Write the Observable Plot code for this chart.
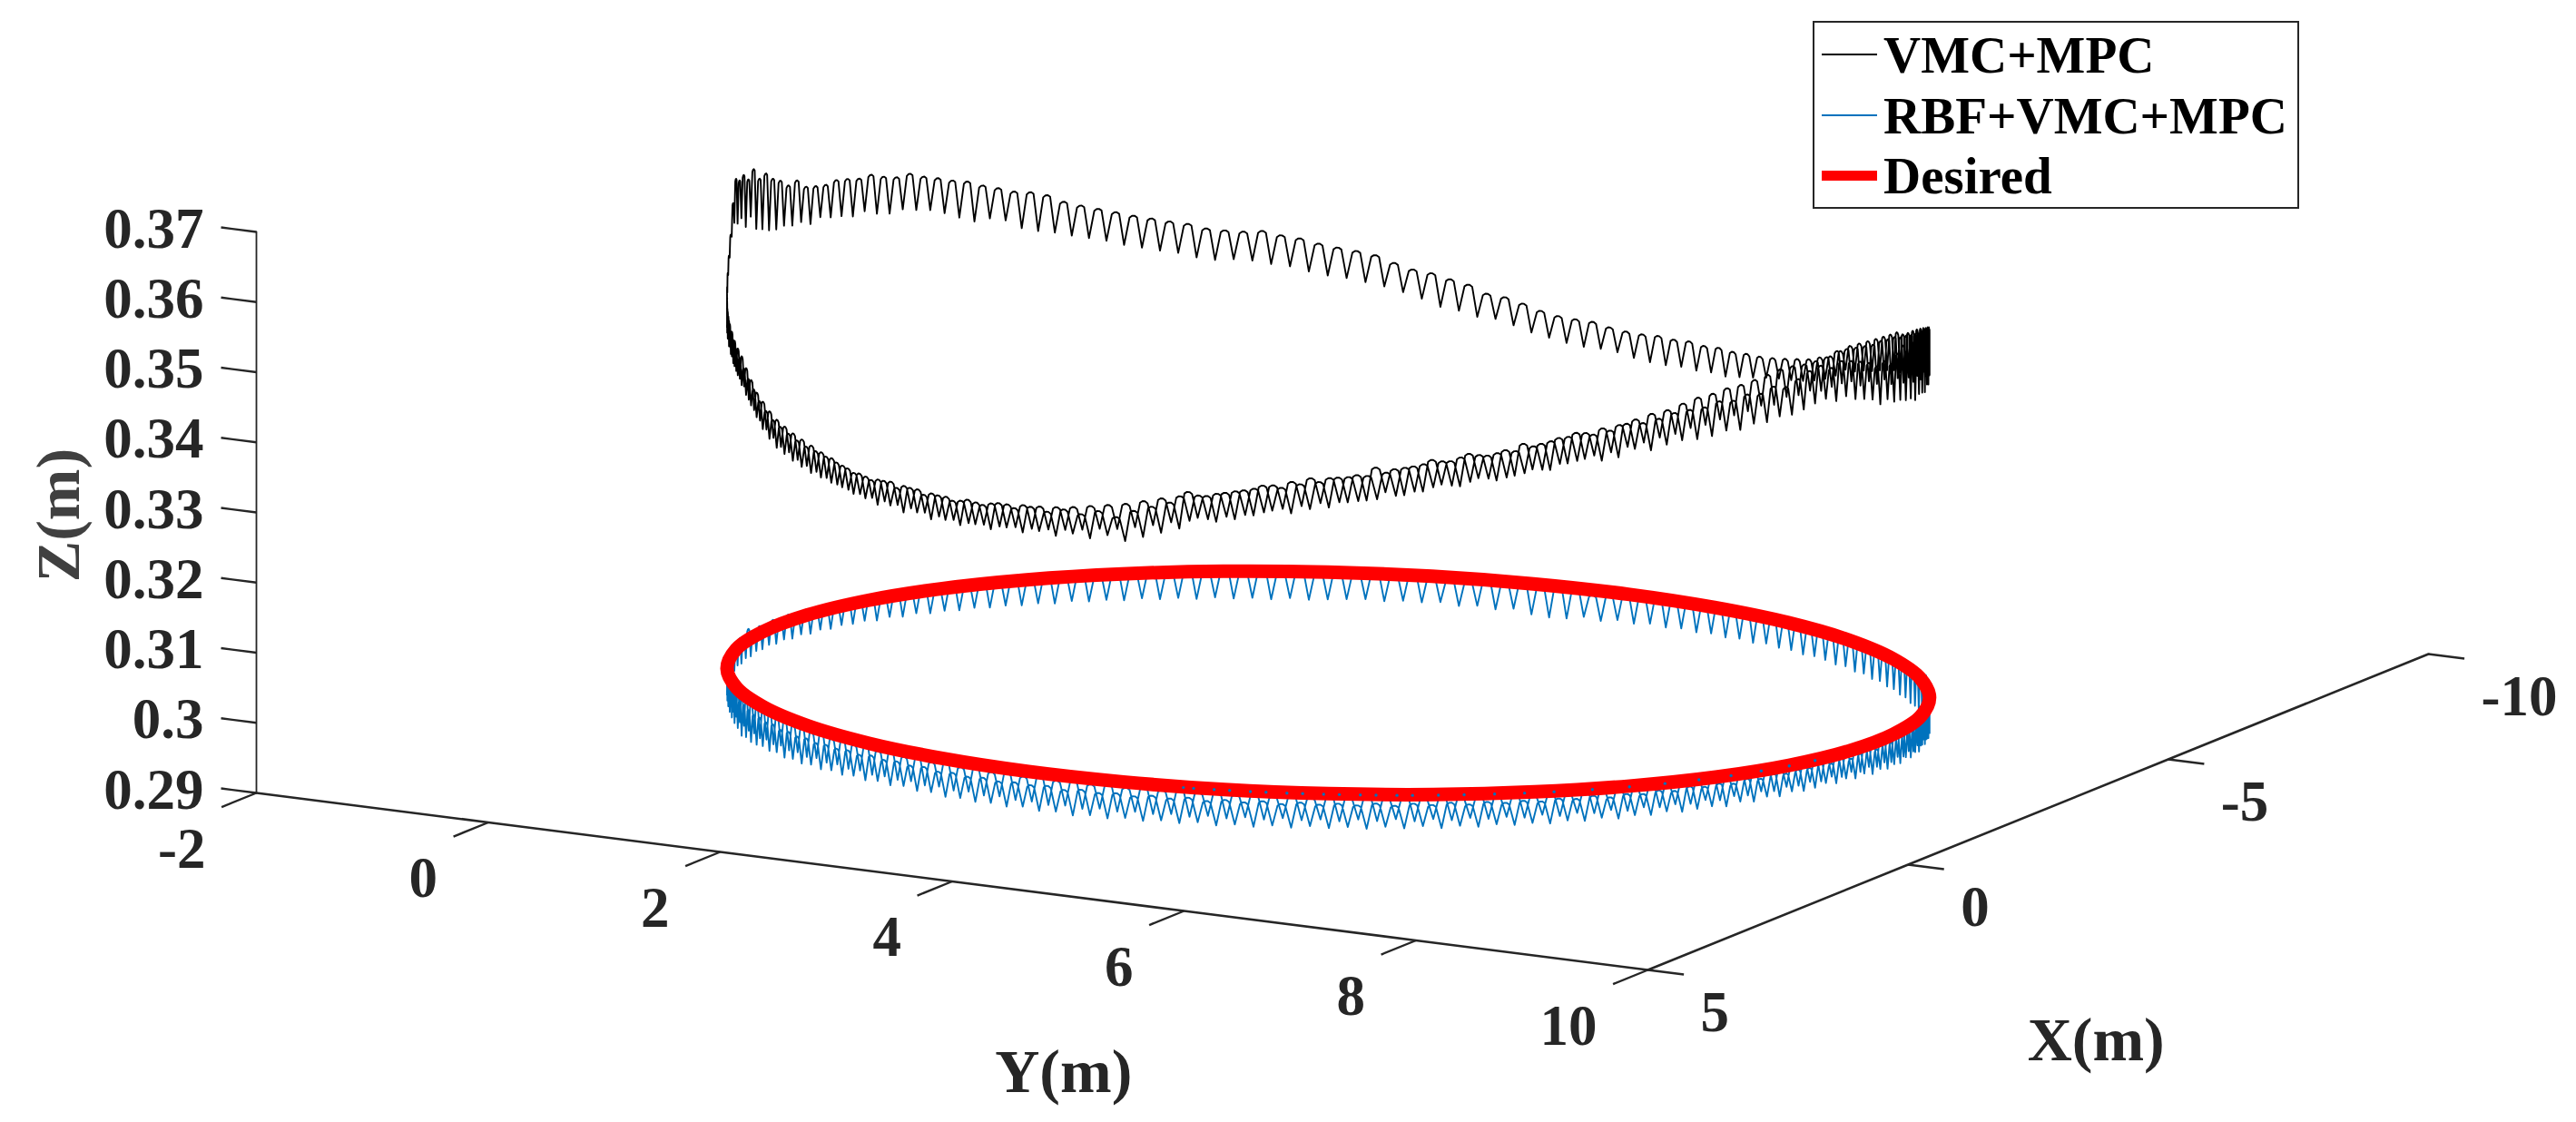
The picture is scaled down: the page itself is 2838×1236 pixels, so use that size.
<!DOCTYPE html>
<html><head><meta charset="utf-8">
<script src="https://cdn.jsdelivr.net/npm/d3@7"></script>
<script src="https://cdn.jsdelivr.net/npm/@observablehq/plot@0.6"></script>
<style>
html,body{margin:0;padding:0;background:#fff}
#wrap{position:relative;width:2838px;height:1236px;overflow:hidden}
svg{display:block}
.lg{position:absolute;left:1997px;top:23px;width:532px;height:203px;border:2.5px solid #262626;background:#fff;font:bold 57px "Liberation Serif",serif;color:#000}
.lg div{position:absolute;white-space:nowrap;line-height:1}
</style></head><body><div id="wrap"></div>
<script>
// Values
const zTicks=[0.29,0.3,0.31,0.32,0.33,0.34,0.35,0.36,0.37];
const zTickLabels=["0.29","0.3","0.31","0.32","0.33","0.34","0.35","0.36","0.37"];
const yTicks=[-2,0,2,4,6,8,10];
const xTicks=[5,0,-5,-10];
const legendLabels=["VMC+MPC","RBF+VMC+MPC","Desired"];
const legendColors=["#000000","#0072BD","#FF0000"];
const legendWidths=[2,2,11];
// Desired circle, metres
const desiredX=[-2.24,-1.51,-.74,.06,.86,1.62,2.34,2.99,3.55,4,4.33,4.52,4.58,4.5,4.29,3.94,3.47,2.9,2.24,1.51,.74,-.06,-.86,-1.62,-2.34,-2.99,-3.55,-4,-4.33,-4.52,-4.58,-4.5,-4.29,-3.94,-3.47,-2.9];
const desiredY=[9.18,9.43,9.54,9.52,9.36,9.07,8.65,8.12,7.5,6.8,6.05,5.26,4.47,3.69,2.96,2.28,1.69,1.2,.82,.57,.46,.48,.64,.93,1.35,1.88,2.5,3.2,3.95,4.74,5.53,6.31,7.04,7.72,8.31,8.8];
const desiredZ=0.3054;
// Blue specks showing through the red line on the near side: angle, degrees
const rbfSpeckAngle=[104,103,101,99.5,97.5,96,94,92.5,90.5,89,87,85.5,83.5,82,79.5,77,74,71,68,64,60,56,52,48,44,40,36];
// Progress angle of each oscillation along the path, degrees
const toothAngle=[0,
1.8,3.6,5.4,7.2,9,10.8,12.6,14.4,16.2,18,19.8,21.6,23.4,25.2,27,28.8,30.6,32.4,34.2,36,
37.8,39.6,41.4,43.2,45,46.8,48.6,50.4,52.2,54,55.8,57.6,59.4,61.2,63,64.8,66.6,68.4,70.2,72,
73.8,75.6,77.4,79.2,81,82.8,84.6,86.4,88.2,90,91.8,93.6,95.4,97.2,99,100.8,102.6,104.4,106.2,108,
109.8,111.6,113.4,115.2,117,118.8,120.6,122.4,124.2,126,127.8,129.6,131.4,133.2,135,136.8,138.6,140.4,142.2,144,
145.8,147.6,149.4,151.2,153,154.8,156.6,158.4,160.2,162,163.8,165.6,167.4,169.2,171,172.8,174.6,176.4,178.2,180,
181.8,183.6,185.4,187.2,189,190.8,192.6,194.4,196.2,198,199.8,201.6,203.4,205.2,207,208.8,210.6,212.4,214.2,216,
217.8,219.6,221.4,223.2,225,226.8,228.6,230.4,232.2,234,235.8,237.6,239.4,241.2,243,244.8,246.6,248.4,250.2,252,
253.8,255.6,257.4,259.2,261,262.8,264.6,266.4,268.2,270,271.8,273.6,275.4,277.2,279,280.8,282.6,284.4,286.2,288,
289.8,291.6,293.4,295.2,297,298.8,300.6,302.4,304.2,306,307.8,309.6,311.4,313.2,315,316.8,318.6,320.4,322.2,324,
325.8,327.6,329.4,331.2,333,334.8,336.6,338.4,340.2,342,343.8,345.6,347.4,349.2,351,352.8,354.6,356.4,358.2,360,
362.6,364.4,366.2,368,369.8,371.6,373.4,375.2,377,378.8,380.6,382.4,384.2,386,387.8,389.6,391.4,393.2,395,396.8,
398.6,400.4,402.2,404,405.8,407.6,409.4,411.2,413,414.8,416.6,418.4,420.2,422,423.8,425.6,427.4,429.2,431,432.8,
434.6,436.4,438.2,440,441.8,443.6,445.4,447.2,449,450.8,452.6,454.4,456.2,458,459.8,461.6,463.4,465.2,467,468.8,
470.6,472.4,474.2,476,477.8,479.6,481.4,483.2,485,486.8,488.6,490.4,492.2,494,495.8,497.6,499.4,501.2,503,504.8,
506.6,508.4,510.2,512,513.8,515.6,517.4,519.2,521,522.8,524.6,526.4,528.2,530,531.8,533.6,535.4,537.2,538.8,540];
// VMC+MPC: crest and trough height of each oscillation, mm
const vmcTop=[357.6,
358.5,356.9,358.8,357.4,359.1,358,359.6,358.2,360.1,359.4,358.4,359.2,358.9,359.8,360.4,360.9,361.3,360.7,361.4,361,
360.2,359.4,359.8,359.1,359.3,358.7,358.9,358.3,358.2,358,357.4,357,357.1,356.3,355.9,356.3,355.7,355,355.1,354.3,
353.6,353.9,352.9,353.1,352.2,351.8,352,350.9,350.5,349.8,349.4,348.8,349,348.2,347.7,347.1,347.5,345.8,345,344.2,
343.1,343.7,343,343.4,342.8,343.2,342.7,343.1,342.5,342.9,342.4,342.8,342.5,343.1,342.7,343.3,343,343.5,343.8,344.2,
344.6,344.9,345.1,345.5,346,346.5,347,347.8,348.7,349.9,350.9,351.9,352.9,353.7,354.5,355.2,356.2,357,358,359.5,
361,363,365.5,369.5,372.5,371.8,372.1,371,372,370.2,370.5,369.3,368.6,367.5,367.8,366.5,366.2,366,366.3,366.1,
365.8,366,365.4,365,365.2,364.5,364,363.4,363,362.2,361.6,360.9,360.6,360,358.9,358.2,357.6,357,356.4,355.9,
355.4,355,354.3,354,353.8,353.9,353.3,352.9,352.2,351.7,351.3,350.8,349.8,349,348.6,347.9,347.3,346.2,345.9,345.2,
344.4,343.9,343.7,343.6,343.1,342.8,342.7,342.8,342.6,342.7,342.4,342.5,342.3,342.4,342.4,342.6,342.9,343.3,343.7,344.4,
345,346.2,347.4,348.2,349,349.8,350.6,351.4,352.2,352.4,353.1,353.9,354.6,355.2,355.8,356.3,356.9,357.4,357.6,357.8,
358.5,359.2,359.4,360,360.2,360.6,360.9,361.3,361.5,362,362.1,362.3,362.2,362.4,362.6,362.8,362.9,362.4,362.2,362.1,
362.2,362.1,361.6,361.2,360.8,360.6,360.1,359.8,359.2,358.5,358.2,357.6,357,356.7,356.2,355.8,355.3,354.7,354.1,353.9,
353.7,353.4,352.9,352.5,352,351.3,350.8,350.6,350.4,350.3,349.7,349.1,348.5,348,347.5,347.1,346.8,346.3,345.7,345.1,
344.7,344.3,343.9,343.6,343.4,343.3,343.1,342.9,342.7,342.6,342.8,342.9,343.1,343.2,343.4,343.3,343.3,343.4,344,344.6,
345,345.5,345.9,346.3,346.8,347.3,348,348.9,349.7,351,352.2,353.4,354,354.6,355.4,356,356.6,357.2,357.6,358];
const vmcBottom=[351.4,
351.8,351,351.5,350.9,351.3,351.6,351.2,351.9,352.1,352.6,352.8,353.6,353.3,354.4,354.9,355.3,356.1,355.8,356.5,356.2,
355.7,355.3,355.4,354.9,355,354.4,354.6,354.1,353.9,354,353.6,353,353.4,352.4,352.1,352.5,352,351.2,351.4,350.6,
350,350.4,349.3,349.6,348.6,348.1,348.5,347.3,347,346.2,345.9,345.2,345.5,344.7,344,343.5,343.9,342.2,341.4,340.6,
339.8,340.4,339.7,340.1,339.5,339.9,339.4,339.8,339.2,339.6,339.1,339.5,339.2,339.8,339.4,340,339.7,340.2,340.4,340.9,
341.1,341.4,341.6,342,342.4,342.9,343.3,344.1,345,346.2,347.4,348.4,349.3,350.2,351,351.9,352.8,353.8,355,356.5,
358.5,360.5,362.5,365,366.5,365.9,366.2,364.5,365.5,363.3,362.8,362.2,361.9,362,361.6,361.7,361,361.6,361.2,361,
360.6,361,360.3,360,360.3,359.9,359.6,358.9,358,357.2,357.4,356.9,355.6,355,354.6,354,353.5,353,352.3,351.8,
351.3,350.9,350.2,349.8,349.9,349.7,349.2,348.9,348.2,347.7,347.4,346.9,346.4,345.7,344.9,343.9,343.5,342.8,342.7,342,
341.2,340.7,340.2,339.9,339.9,339.7,339.2,338.9,338.8,338.9,338.7,338.8,338.6,338.9,339.2,339.6,339.9,340.1,340.4,340.9,
341.6,342.5,343.8,344,344.6,345,345.6,346.1,346.6,346.8,347.3,347.9,348.2,348.9,349.4,349.9,350.3,350.9,351.2,351.4,
352.5,353.4,352.9,354,353.4,354.4,354,355.1,354.8,355.9,355.5,356.6,356.4,357.2,357,358,358.1,358,357.8,358.2,
357.9,358,357.2,357.4,356.9,356.6,356.3,355.8,355.6,355,354.7,354.2,353.8,353.2,352.9,352.3,352,351.3,350.9,350.4,
350.3,349.9,349.4,349.2,348.6,348,347.5,347.2,347,346.8,346.3,345.8,345.2,344.7,344.3,343.8,343.4,343,342.4,341.9,
341.4,341.2,340.8,340.5,340.3,340.1,340,339.8,339.7,339.6,339.7,339.8,340,340.2,340.3,340.4,340.5,340.6,340.8,341.1,
341.6,342,342.4,342.8,343.4,343.7,344.5,345.2,346,347,348,349.4,350,350.6,351.2,352,352.6,353.2,353.6,354];
// RBF+VMC+MPC: crest and trough height of each oscillation, mm
const rbfTop=[306.4,
305.6,306.2,305.4,305.9,305,305.5,304.8,305.2,304.6,304.9,304.4,304.7,304.3,304.6,304.5,304.2,304.6,304.3,304.7,304.4,
304.5,304.3,304.6,304.2,304.5,304.1,304.4,304.2,304.5,304.1,304.4,304.1,304.3,304,304.4,304.1,304.3,304,304.2,304,
304.2,303.9,304.2,303.9,304.1,303.8,304.1,303.8,304,303.8,304,303.7,304,303.7,303.9,303.6,303.9,303.6,303.8,303.5,
303.7,303.5,303.7,303.4,303.7,303.5,303.6,303.4,303.6,303.4,303.6,303.4,303.7,303.5,303.7,303.5,303.7,303.4,303.6,303.4,
303.5,303.3,303.5,303.3,303.5,303.3,303.6,303.4,303.6,303.5,303.7,303.9,304,304.2,304.4,304.6,304.9,305.1,305.4,305.6,
305.8,306,306.2,306.4,306.2,306.5,306.3,306.9,306.2,306.4,306.2,306.4,306,306.3,305.9,306.2,305.9,306.1,305.8,306,
305.8,306,305.7,305.9,305.7,305.9,305.6,305.8,305.6,305.8,305.6,305.8,305.6,305.8,305.6,305.8,305.5,305.7,305.5,305.7,
305.5,305.7,305.5,305.7,305.5,305.7,305.4,305.6,305.4,305.6,305.5,305.6,305.4,305.6,305.4,305.2,305,305.4,305.2,305.5,
305.2,305.5,305.3,304.6,304.9,305.3,305.4,305.6,305.4,305.6,305.4,305.6,305.4,305.7,305.5,305.7,305.5,305.7,305.5,305.8,
305.6,305.8,305.6,305.9,305.7,305.9,305.7,306,305.8,306.1,306,306.3,306.1,306.5,306.4,306.8,306.7,307.1,307.2,307.5,
306.9,306.4,306.7,306.1,306.3,305.9,306,305.7,305.8,305.5,305.6,305.4,305.5,305.3,305.4,305.2,305.3,305.1,305.3,305.1,
305.2,305,305.2,305,305.2,305,305.1,304.9,305.1,304.9,305.1,304.9,305.1,304.9,305,304.8,305,304.8,305,304.8,
305,304.8,305,304.8,305,304.8,305,304.8,304.9,304.7,304.9,304.7,304.9,304.7,304.9,304.7,304.9,304.7,304.8,304.6,
304.8,304.6,304.8,304.6,304.8,304.6,304.8,304.6,304.8,304.6,304.8,304.6,304.8,304.6,304.8,304.6,304.8,304.6,304.8,304.6,
304.8,304.6,304.8,304.6,304.8,304.7,304.9,304.7,304.9,304.8,305,304.8,305.1,305,305.2,305.1,305.3,305.3,305.4,305.4];
const rbfBottom=[300.8,
301.2,300.6,301,300.7,301.1,300.6,301,300.7,301.2,300.8,301.1,300.9,301.3,301,301.5,301.2,301.6,301.3,301.7,301.4,
301.3,301.6,301.2,301.5,301.1,301.4,301,301.3,301.2,301,301.3,301,301.2,300.9,301.2,300.9,301.1,300.8,301,300.8,
301,300.7,300.9,300.6,300.9,300.6,300.8,300.5,300.7,300.5,300.7,300.4,300.6,300.3,300.5,300.2,300.5,300.2,300.4,300.1,
300.3,300,300.2,299.9,300.2,300,300.3,300,300.2,300,300.2,300,300.3,300.1,300.4,300.1,300.3,300,300.2,299.9,
300.1,299.8,300,299.7,299.9,299.6,299.9,299.6,299.8,299.5,299.4,299.6,299.3,299.9,300.1,300.4,300.7,301,301.3,301.6,
302,302.3,302.5,302.8,302.6,302.9,302.7,303,302.8,303.1,302.9,303.1,302.8,303,302.7,302.9,302.6,302.8,302.5,302.7,
302.5,302.6,302.3,302.5,302.2,302.4,302.1,302.2,302,302.1,301.9,302,301.8,301.9,301.7,301.9,301.7,301.8,301.6,301.8,
301.6,301.7,301.5,301.7,301.5,301.6,301.4,301.6,301.4,301.5,301.6,301.7,301.5,301.7,301.6,301.8,301.4,301.6,301.3,301.6,
301,300.8,300.9,301.4,301.1,301.5,301.3,301.6,301.4,301.6,301.4,301.6,301.4,301.6,301.4,301.7,301.5,301.6,301.4,301.6,
301.5,301.3,301.5,301.2,301.4,301.1,301.3,301,301.1,300.8,300.9,300.6,300.7,300.5,300.6,300.4,300.5,300.3,300.4,300.3,
301,301.5,301.1,301.6,301.2,301.7,301.3,301.8,301.5,301.9,301.6,302,301.8,302.2,301.9,302.3,302,302.4,302.1,302.4,
302.2,302.4,302.1,302.4,302.1,302.3,302,302.3,302,302.2,302,302.2,301.9,302.2,301.9,302.1,301.8,302.1,301.8,302,
301.8,302,301.7,301.9,301.6,301.9,301.6,301.8,301.5,301.7,301.5,301.7,301.4,301.6,301.3,301.5,301.2,301.4,301.2,301.3,
301.1,301.3,301,301.2,301,301.2,301.1,301.3,301.1,301.3,301.1,301.3,301.1,301.3,301.1,301.2,301,301.2,301,301.2,
301,301.2,300.9,301.1,300.9,301.1,300.8,301,300.7,300.9,300.8,301,301,301.3,301.5,301.9,302.2,302.5,302.8,303];

// Axes of the box as read: pixels per unit of each axis
const perY=[127.75,16.25], perX=[-57.33,23.2], perZ=7725;
const toH=(X,Y)=>Y+(perX[0]/perY[0])*(X-5);
const toV=(X,Y,Z)=>Z-(perY[1]*(Y+2)+perX[1]*(X-5))/perZ;
const P=(X,Y,Z)=>({h:toH(X,Y),v:toV(X,Y,Z)});
const pathPoint=(deg,mm)=>{const r=deg*Math.PI/180,c=Math.cos(r),s=Math.sin(r);return P(-2.24*c+4*s,5+4.18*c+1.8*s,mm/1000);};
// each oscillation: a sharp trough, then a flat-topped crest
const wiggle=(top,bottom)=>toothAngle.flatMap((a,i)=>[pathPoint(a,bottom[i]),pathPoint(a+0.55,top[i]-0.25),pathPoint(a+0.8,top[i]),pathPoint(a+1.05,top[i]),pathPoint(a+1.3,top[i]-0.25)]);

const vmc=wiggle(vmcTop,vmcBottom), rbf=wiggle(rbfTop,rbfBottom);
const ring=desiredX.map((X,i)=>P(X,desiredY[i],desiredZ));
const specks=rbfSpeckAngle.map(a=>pathPoint(a,305.3));
const line=(d,stroke,w,extra={})=>Plot.line(d,{x:"h",y:"v",stroke,strokeWidth:w,...extra});
const axisInk="#262626", serif="Liberation Serif";
const zAxisPts=zTicks.map(z=>P(5,-2,z));
const yAxisPts=yTicks.map(y=>P(5,y,0.29));
const xAxisPts=xTicks.map(x=>P(x,10,0.29));
const links=(data,f)=>Plot.link(data,{x1:d=>P(...f(d)[0]).h,y1:d=>P(...f(d)[0]).v,x2:d=>P(...f(d)[1]).h,y2:d=>P(...f(d)[1]).v,stroke:axisInk,strokeWidth:2.4});
const txt=(data,o)=>Plot.text(data,{fontFamily:serif,fontWeight:"bold",fill:axisInk,fontSize:63,...o});

const chart=Plot.plot({
  width:2838,height:1236,marginLeft:0,marginRight:0,marginTop:0,marginBottom:0,
  style:{background:"white",overflow:"hidden"},
  x:{axis:null,domain:[-2-282/perY[0],-2+(2838-282)/perY[0]],range:[0,2838]},
  y:{axis:null,domain:[0.29-(1236-873)/perZ,0.29+873/perZ],range:[1236,0]},
  marks:[
    line(zAxisPts,axisInk,1.8),
    line(yAxisPts,axisInk,2.6),
    line(xAxisPts,axisInk,2.6),
    links(zTicks,z=>[[5,-2,z],[5,-2.305,z]]),
    links(yTicks,y=>[[5,y,0.29],[5.67,y,0.29]]),
    links(xTicks,x=>[[x,10,0.29],[x,10.31,0.29]]),
    txt(zTicks,{x:z=>P(5,-2,z).h,y:z=>P(5,-2,z).v,text:(z,i)=>zTickLabels[i],textAnchor:"end",dx:-58,dy:-3}),
    txt(yTicks,{x:y=>P(5,y,0.29).h,y:y=>P(5,y,0.29).v,text:y=>String(y),textAnchor:"end",dx:-56,dy:62}),
    txt(xTicks,{x:x=>P(x,10,0.29).h,y:x=>P(x,10,0.29).v,text:x=>String(x),textAnchor:"start",dx:58,dy:47}),
    txt(["Y(m)"],{x:()=>P(5,5,0.29).h,y:()=>P(5,5,0.29).v,text:d=>d,fontSize:68,dx:-5,dy:194}),
    txt(["X(m)"],{x:()=>P(0,10,0.29).h,y:()=>P(0,10,0.29).v,text:d=>d,fontSize:68,dx:207,dy:194}),
    txt(["Z(m)"],{x:()=>P(5,-2,0.33).h,y:()=>P(5,-2,0.33).v,text:d=>d,fontSize:68,rotate:-90,dx:-217,dy:3,fill:"#404040"}),
    line(vmc,legendColors[0],1.9),
    line(rbf,legendColors[1],1.9),
    line(ring,legendColors[2],15,{curve:"catmull-rom-closed"}),
    Plot.dot(specks,{x:"h",y:"v",r:1.7,fill:legendColors[1]})
  ]
});
const wrap=document.getElementById("wrap");
wrap.appendChild(chart);
const lg=document.createElement("div");lg.className="lg";
legendLabels.forEach((t,i)=>{
  const cy=[35,102,168][i];
  const s=document.createElement("div");
  s.style.cssText=`left:8px;width:61px;top:${cy-legendWidths[i]/2}px;height:${legendWidths[i]}px;background:${legendColors[i]}`;
  const l=document.createElement("div");
  l.style.cssText=`left:76px;top:${cy-28}px`;l.textContent=t;
  lg.append(s,l);
});
wrap.appendChild(lg);
</script></body></html>
